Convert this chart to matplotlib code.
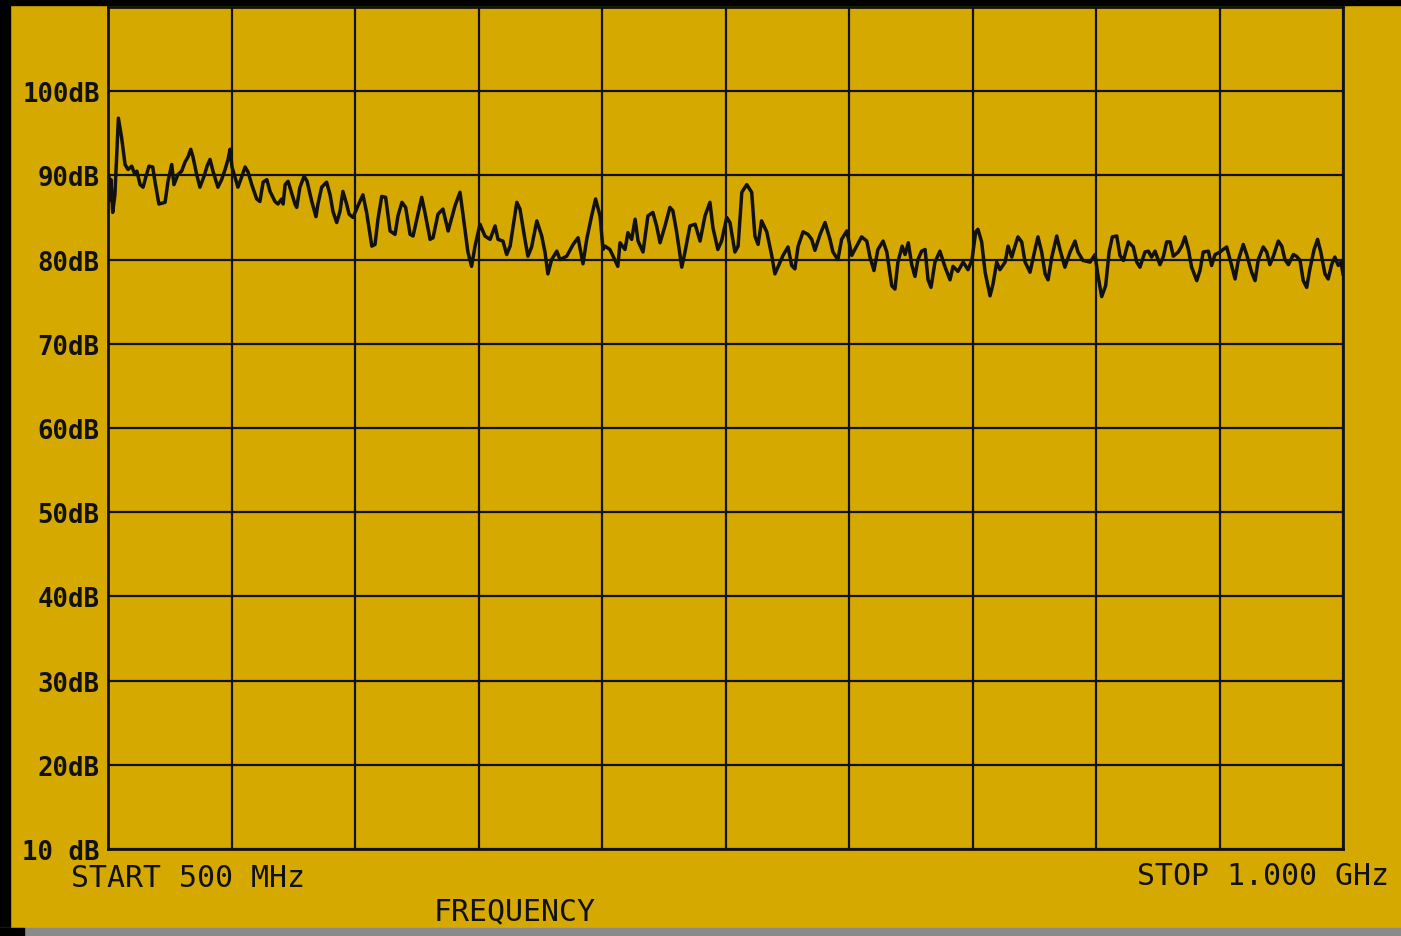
#!/usr/bin/env python
"""Spectrum analyser plot, 500 MHz - 1 GHz sweep (trace read off the hard-copy)."""
import matplotlib
matplotlib.use("Agg")
import matplotlib.pyplot as plt
from matplotlib.patches import Rectangle

# --- trace (MHz, dB) ---
freq_mhz = [
    500.4, 500.8, 501.2, 501.9, 502.8, 504.2, 505.5, 506.9, 508.1, 509.6, 510.9, 511.7, 513.0, 514.2,
    515.4, 516.6, 518.1, 519.0, 520.6, 523.1, 524.3, 525.8, 526.7, 528.3, 529.8, 531.2, 532.4, 533.5,
    534.4, 535.9, 537.2, 538.9, 540.1, 541.3, 542.5, 544.5, 546.0, 547.4, 548.6, 549.4, 550.2, 551.4,
    552.6, 554.1, 555.5, 556.7, 558.2, 560.2, 561.5, 562.8, 564.3, 565.6, 567.6, 568.8, 570.3, 570.9,
    571.7, 572.9, 575.7, 576.4, 577.7, 579.4, 580.6, 582.5, 584.2, 585.0, 586.5, 588.5, 589.9, 591.1,
    592.6, 593.9, 595.1, 596.6, 597.6, 599.2, 601.2, 603.2, 604.7, 606.8, 608.1, 609.3, 610.8, 612.4,
    614.2, 616.2, 617.4, 619.0, 620.5, 622.3, 623.5, 625.5, 627.0, 628.3, 630.4, 631.6, 633.6, 635.6,
    637.7, 640.5, 642.5, 643.7, 645.7, 647.2, 648.6, 650.6, 652.6, 654.7, 656.7, 657.9, 659.9, 661.4,
    662.8, 665.5, 666.8, 668.8, 670.0, 671.5, 673.6, 675.6, 676.9, 678.1, 679.6, 681.7, 683.0, 685.7,
    688.3, 690.3, 692.3, 693.8, 695.8, 697.4, 699.2, 700.4, 701.2, 703.2, 704.5, 706.4, 707.3, 709.3,
    710.5, 712.0, 713.4, 714.6, 716.6, 718.6, 720.6, 722.1, 723.5, 725.5, 727.5, 728.7, 730.2, 732.3,
    733.6, 735.6, 737.7, 739.7, 741.7, 743.7, 744.9, 746.9, 748.4, 750.5, 751.8, 753.8, 755.1, 756.6,
    758.6, 760.6, 761.9, 763.2, 764.6, 766.7, 768.7, 770.0, 772.1, 773.3, 775.3, 776.8, 778.1, 779.4,
    781.4, 783.4, 784.9, 786.2, 788.3, 790.3, 792.3, 793.5, 795.5, 797.0, 799.1, 799.6, 801.1, 803.1,
    805.1, 807.2, 808.5, 810.1, 811.7, 813.8, 815.3, 817.3, 818.6, 819.8, 821.5, 822.7, 824.0, 825.4,
    826.7, 827.9, 829.4, 830.8, 832.0, 833.2, 834.8, 836.8, 838.9, 840.9, 842.1, 844.1, 846.2, 848.2,
    849.8, 851.3, 852.2, 853.7, 855.1, 857.1, 858.3, 859.8, 861.1, 863.2, 864.4, 865.9, 867.2, 868.4,
    869.9, 871.3, 873.3, 875.3, 876.5, 878.0, 879.4, 880.6, 882.1, 884.1, 885.4, 887.4, 889.5, 891.5,
    892.7, 894.7, 897.6, 899.6, 900.8, 902.3, 903.9, 905.3, 906.6, 908.4, 909.7, 911.1, 913.1, 915.1,
    916.5, 917.8, 919.8, 921.2, 922.5, 923.9, 925.9, 927.3, 928.6, 930.0, 931.3, 933.3, 934.7, 936.0,
    937.4, 938.7, 940.8, 942.1, 943.4, 945.5, 946.8, 948.2, 950.2, 951.5, 952.9, 954.9, 956.3, 957.6,
    959.6, 961.0, 963.0, 964.4, 965.7, 967.7, 969.1, 970.4, 971.8, 973.8, 975.2, 976.5, 977.9, 979.9,
    981.2, 982.6, 983.9, 985.3, 986.6, 988.3, 989.7, 991.0, 992.7, 994.0, 995.4, 996.7, 998.1, 999.2,
    1000.0]
level_db = [
    89.9, 87.1, 89.5, 85.6, 87.7, 96.8, 94.5, 91.3, 90.7, 91.1, 90.1, 90.5, 88.9, 88.6,
    89.9, 91.1, 91.0, 89.3, 86.6, 86.8, 89.3, 91.3, 88.9, 90.1, 90.5, 91.6, 92.2, 93.1,
    92.2, 90.1, 88.6, 89.9, 91.1, 91.9, 90.5, 88.6, 89.5, 90.7, 91.9, 93.1, 91.0, 89.8,
    88.6, 89.8, 91.0, 90.4, 88.9, 87.2, 86.9, 89.2, 89.5, 88.1, 86.9, 86.6, 87.2, 86.6,
    88.9, 89.3, 86.6, 86.2, 88.6, 89.9, 89.3, 86.9, 85.1, 86.6, 88.6, 89.2, 87.7, 85.7,
    84.4, 85.7, 88.1, 86.6, 85.4, 85.0, 86.4, 87.7, 85.6, 81.6, 81.8, 84.8, 87.5, 87.4,
    83.4, 83.0, 85.2, 86.8, 86.2, 83.0, 82.8, 85.4, 87.4, 85.6, 82.4, 82.6, 85.4, 86.0,
    83.4, 86.4, 88.0, 85.4, 80.9, 79.2, 81.6, 84.2, 82.8, 82.4, 84.0, 82.4, 82.2, 80.6,
    81.6, 86.8, 86.0, 82.4, 80.4, 81.5, 84.6, 82.8, 80.9, 78.3, 80.0, 81.0, 80.0, 80.4,
    81.8, 82.6, 79.5, 82.4, 85.2, 87.2, 85.2, 81.2, 81.6, 81.2, 80.4, 79.2, 82.0, 81.2,
    83.2, 82.4, 84.8, 82.2, 80.9, 85.2, 85.6, 84.0, 82.0, 84.0, 86.2, 85.8, 83.3, 79.1,
    80.9, 84.0, 84.2, 82.2, 85.2, 86.8, 83.8, 81.2, 82.2, 85.0, 84.4, 80.9, 81.6, 88.0,
    88.9, 88.0, 82.8, 81.8, 84.6, 83.3, 80.5, 78.3, 79.7, 80.5, 81.5, 79.3, 78.9, 81.6,
    83.3, 83.0, 82.4, 81.1, 83.0, 84.4, 82.4, 80.9, 80.0, 82.4, 83.4, 82.7, 80.5, 81.6,
    82.7, 82.2, 80.3, 78.7, 81.2, 82.2, 80.9, 76.9, 76.5, 79.7, 81.6, 80.6, 82.0, 79.4,
    78.0, 80.0, 81.0, 81.2, 77.6, 76.7, 79.7, 81.0, 79.1, 77.6, 79.2, 78.6, 79.7, 78.8,
    80.0, 83.3, 83.6, 82.1, 78.5, 75.7, 77.1, 79.7, 78.8, 79.7, 81.6, 80.3, 81.6, 82.7,
    82.1, 79.7, 78.5, 81.2, 82.7, 80.9, 78.3, 77.6, 80.3, 82.8, 81.2, 79.1, 80.9, 82.2,
    80.9, 79.9, 79.7, 80.6, 78.1, 75.6, 76.9, 80.9, 82.7, 82.8, 80.5, 79.9, 82.1, 81.5,
    79.7, 79.1, 80.9, 81.0, 80.3, 81.0, 79.4, 80.4, 82.1, 82.1, 80.4, 80.9, 81.6, 82.7,
    81.2, 79.1, 77.5, 78.7, 80.9, 81.0, 79.3, 80.6, 80.9, 81.2, 81.5, 79.3, 77.7, 79.9,
    81.8, 80.6, 78.5, 77.5, 80.0, 81.5, 80.9, 79.4, 80.4, 82.2, 81.6, 80.0, 79.4, 80.6,
    80.4, 79.9, 77.5, 76.7, 78.9, 81.2, 82.4, 80.9, 78.3, 77.7, 79.4, 80.3, 79.3, 79.7,
    78.3]

# --- axis setup ---
db_ticks = [10, 20, 30, 40, 50, 60, 70, 80, 90, 100]
db_labels = ["10 dB", "20dB", "30dB", "40dB", "50dB", "60dB", "70dB", "80dB", "90dB", "100dB"]
freq_grid = [500, 550, 600, 650, 700, 750, 800, 850, 900, 950, 1000]

PAPER = "#D6A900"
INK = "#111111"
MONO = "DejaVu Sans Mono"

fig = plt.figure(figsize=(14.01, 9.37), dpi=100, facecolor=PAPER)
ax = fig.add_axes([108/1401, 87/937, 1235/1401, 842/937], facecolor=PAPER)

ax.plot(freq_mhz, level_db, color=INK, lw=2.5, solid_joinstyle="round")

ax.set_xlim(500, 1000); ax.set_ylim(10, 110)
ax.set_xticks(freq_grid); ax.set_xticklabels([])
ax.set_yticks(db_ticks); ax.set_yticklabels(db_labels, family=MONO, fontsize=18.5, fontweight="bold")
ax.tick_params(length=0, pad=6, colors=INK)
ax.grid(True, color=INK, lw=1.6)
ax.set_axisbelow(True)
for s in ax.spines.values():
    s.set_color(INK); s.set_linewidth(2.0)

# sweep annotations under the graticule
fig.text(0.134, 0.062, "START 500 MHz", family=MONO, fontsize=21.5, color=INK, ha="center", va="center")
fig.text(0.367, 0.027, "FREQUENCY", family=MONO, fontsize=21.5, color=INK, ha="center", va="center")
fig.text(0.9015, 0.065, "STOP 1.000 GHz", family=MONO, fontsize=21.5, color=INK, ha="center", va="center")

# scan edges: dark border left/top, grey strip at the bottom
fig.patches.append(Rectangle((0, 0), 10/1401, 1, transform=fig.transFigure, color="black", zorder=0))
fig.patches.append(Rectangle((0, 1 - 6/937), 1, 6/937, transform=fig.transFigure, color="black", zorder=0))
fig.patches.append(Rectangle((0, 0), 1, 8/937, transform=fig.transFigure, color="#8a8a8a", zorder=0))
fig.patches.append(Rectangle((0, 0), 24/1401, 8/937, transform=fig.transFigure, color="black", zorder=0))

fig.savefig("out.png", dpi=100, facecolor=PAPER)
